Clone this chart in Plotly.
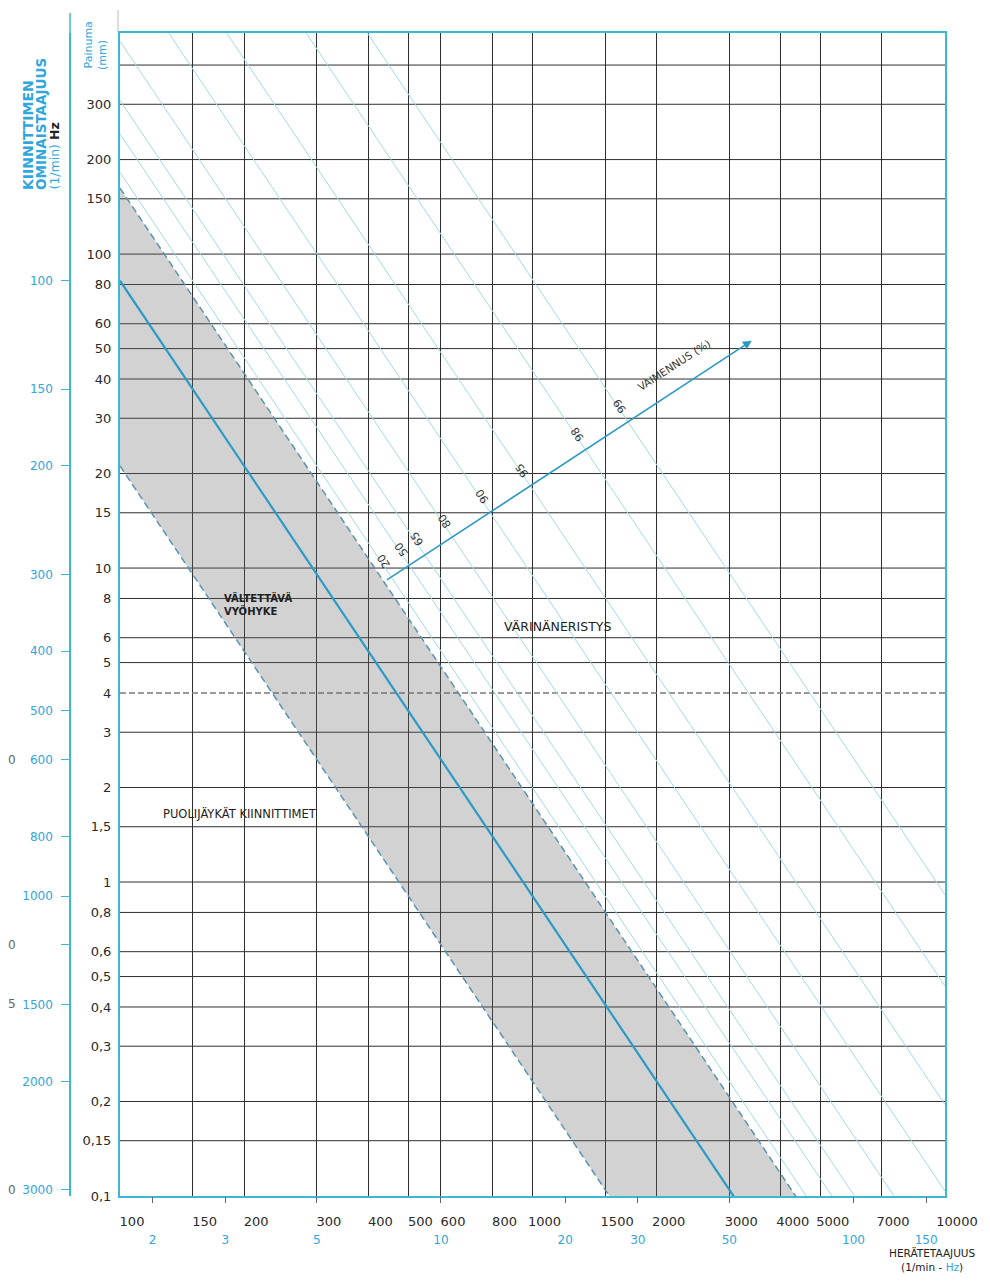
import math
import plotly.graph_objects as go

# page is 990x1282 with the default 8px body margin around the figure
PAGE_W, PAGE_H, BODY = 990, 1282, 8
W, H = PAGE_W - 2 * BODY, PAGE_H - 2 * BODY

# ---------------- data ----------------
# natural frequency of a mount [1/min] vs static deflection [mm], as drawn on the chart:
# deflection = (K / fn) ** EXP
K = 300 * math.sqrt(10)
EXP = 1.96

freq_range = [100, 10000]          # excitation frequency, 1/min
defl_range = [0.1, 506]            # deflection, mm

defl_ticks = [0.1, 0.15, 0.2, 0.3, 0.4, 0.5, 0.6, 0.8, 1, 1.5, 2, 3, 4, 5, 6, 8,
              10, 15, 20, 30, 40, 50, 60, 80, 100, 150, 200, 300, 400]
defl_labels = ["0,1", "0,15", "0,2", "0,3", "0,4", "0,5", "0,6", "0,8", "1", "1,5",
               "2", "3", "4", "5", "6", "8", "10", "15", "20", "30", "40", "50",
               "60", "80", "100", "150", "200", "300", ""]
dashed_defl = 4

freq_ticks = [100, 150, 200, 300, 400, 500, 600, 800, 1000, 1500, 2000, 3000,
              4000, 5000, 7000, 10000]
freq_labels = ["100", "150", "200", "300", "400", "500", "600", "800", "1000",
               "1500", "2000", "3000", "4000", "5000", "7000", "10000"]

hz_ticks = [2, 3, 5, 10, 20, 30, 50, 100, 150]

natfreq_ticks = [100, 150, 200, 300, 400, 500, 600, 800, 1000, 1200, 1500, 2000, 3000]
natfreq_labels = ["100", "150", "200", "300", "400", "500", "600", "800", "1000",
                  "", "1500", "2000", "3000"]
cut_hz_labels = ["0", "0", "5", "0"]      # partly cut column at the far left
cut_hz_freqs = [600, 1200, 1500, 3000]

isolation_pct = [20, 50, 65, 80, 90, 95, 98, 99]
band_ratios = [0.5, math.sqrt(2)]       # zone to avoid: f/fn from 0.5 to sqrt(2)
resonance_ratio = 1.0

arrow_start = (440, 9.1)
arrow_end = (3400, 53)

# ---------------- helpers ----------------
FRAME = "#3cb8d4"
CYAN_TXT = "#2fa6de"
GRID = "#2e2e2e"
TXT = "#2a2a2a"
TICKFONT = "DejaVu Sans"


def defl(f, r):
    return (K * r / f) ** EXP


def ratio_from_isolation(p):
    return math.sqrt(1 + 1 / (1 - p / 100.0))


def px(xp):      # page pixel -> paper x
    return (xp - BODY) / W


def py(yp):      # page pixel -> paper y
    return 1 - (yp - BODY) / H


L = math.log10
PX_L, PX_R, PX_T, PX_B = 120, 945, 33, 1196

fig = go.Figure()

# horizontal grid lines
gx, gy = [], []
for v in defl_ticks:
    if v == dashed_defl or v == defl_ticks[0]:
        continue
    gx += [freq_range[0], freq_range[1], None]
    gy += [v, v, None]
fig.add_trace(go.Scatter(x=gx, y=gy, mode="lines", line=dict(color=GRID, width=1),
                         hoverinfo="skip", showlegend=False))
fig.add_trace(go.Scatter(x=freq_range, y=[dashed_defl, dashed_defl], mode="lines",
                         line=dict(color="#7a7a7a", width=1.3, dash="6px,3px"),
                         hoverinfo="skip", showlegend=False))

# zone to avoid (shaded band)
r0, r1 = band_ratios
bx = [freq_range[0], freq_range[1], freq_range[1], freq_range[0], freq_range[0]]
by = [defl(freq_range[0], r0), defl(freq_range[1], r0),
      defl(freq_range[1], r1), defl(freq_range[0], r1), defl(freq_range[0], r0)]
fig.add_trace(go.Scatter(x=bx, y=by, mode="lines", fill="toself",
                         fillcolor="rgba(105,105,105,0.30)", line=dict(width=0),
                         hoverinfo="skip", showlegend=False))

# isolation efficiency lines
for p in isolation_pct:
    r = ratio_from_isolation(p)
    fig.add_trace(go.Scatter(x=freq_range, y=[defl(f, r) for f in freq_range],
                             mode="lines", line=dict(color="#a3d9ec", width=1),
                             hoverinfo="skip", showlegend=False))

# band edges (dashed)
for r in band_ratios:
    fig.add_trace(go.Scatter(x=freq_range, y=[defl(f, r) for f in freq_range],
                             mode="lines", line=dict(color="#5a93b3", width=1.5, dash="7px,4px"),
                             hoverinfo="skip", showlegend=False))

# resonance line
fig.add_trace(go.Scatter(x=freq_range, y=[defl(f, resonance_ratio) for f in freq_range],
                         mode="lines", line=dict(color="#2b9ac6", width=2.2),
                         hoverinfo="skip", showlegend=False))

# dummy traces for the secondary axes
fig.add_trace(go.Scatter(x=[1000], y=[1], xaxis="x2", yaxis="y", mode="markers",
                         marker=dict(opacity=0), hoverinfo="skip", showlegend=False))
fig.add_trace(go.Scatter(x=[1000], y=[1], xaxis="x", yaxis="y2", mode="markers",
                         marker=dict(opacity=0), hoverinfo="skip", showlegend=False))

xdom = [px(PX_L), px(PX_R)]
ydom = [py(PX_B), py(PX_T)]
xr = [L(freq_range[0]), L(freq_range[1])]
yr = [L(defl_range[0]), L(defl_range[1])]

fig.update_layout(
    width=W, height=H,
    margin=dict(l=0, r=0, t=0, b=0, autoexpand=False),
    paper_bgcolor="white", plot_bgcolor="white",
    showlegend=False,
    xaxis=dict(type="log", range=xr, domain=xdom, anchor="y",
               tickmode="array", tickvals=freq_ticks, ticktext=freq_labels,
               ticks="", showgrid=True, gridcolor=GRID, gridwidth=1,
               showline=True, mirror=True, linecolor=FRAME, linewidth=2,
               zeroline=False, ticklabelshift=12, ticklabelstandoff=12,
               tickfont=dict(family=TICKFONT, size=13, color=TXT)),
    xaxis2=dict(type="log", range=xr, overlaying="x", anchor="y", side="bottom",
                tickmode="array", tickvals=[h * 60 for h in hz_ticks],
                ticktext=[str(h) for h in hz_ticks],
                ticks="outside", ticklen=6, tickwidth=1, tickcolor="#666",
                showgrid=False, showline=False, zeroline=False,
                ticklabelstandoff=27,
                tickfont=dict(family=TICKFONT, size=12, color=CYAN_TXT)),
    yaxis=dict(type="log", range=yr, domain=ydom, anchor="x",
               tickmode="array", tickvals=defl_ticks, ticktext=defl_labels,
               ticks="", showgrid=False, showline=True, mirror=True,
               linecolor=FRAME, linewidth=2, zeroline=False, ticklabelstandoff=4,
               tickfont=dict(family=TICKFONT, size=13, color=TXT)),
    yaxis2=dict(type="log", range=yr, overlaying="y", anchor="free", position=px(70),
                side="left", tickmode="array",
                tickvals=[defl(f, 1) for f in natfreq_ticks], ticktext=natfreq_labels,
                ticks="outside", ticklen=8, tickwidth=1, tickcolor=FRAME,
                showline=True, linecolor=FRAME, linewidth=1.5, showgrid=False,
                zeroline=False, ticklabelstandoff=6,
                tickfont=dict(family=TICKFONT, size=12, color=CYAN_TXT)),
)

ann = []
# arrow for damping / isolation
ann.append(dict(x=L(arrow_end[0]), y=L(arrow_end[1]), ax=L(arrow_start[0]), ay=L(arrow_start[1]),
                xref="x", yref="y", axref="x", ayref="y", text="", showarrow=True,
                arrowhead=2, arrowsize=1.1, arrowwidth=1.6, arrowcolor="#2b9ac6", standoff=0))

X0, Y0 = L(arrow_start[0]), L(arrow_start[1])
X1, Y1 = L(arrow_end[0]), L(arrow_end[1])
for p in isolation_pct:
    r = ratio_from_isolation(p)
    t = (EXP * L(K * r) - Y0 - EXP * X0) / ((Y1 - Y0) + EXP * (X1 - X0))
    ann.append(dict(x=X0 + t * (X1 - X0), y=Y0 + t * (Y1 - Y0), xref="x", yref="y",
                    text=str(p), showarrow=False, textangle=-123, xshift=-8, yshift=16,
                    xanchor="center", yanchor="middle",
                    font=dict(family=TICKFONT, size=11, color="#333")))
tv = 0.815
ann.append(dict(x=X0 + tv * (X1 - X0), y=Y0 + tv * (Y1 - Y0), xref="x", yref="y",
                text="VAIMENNUS (%)", showarrow=False, textangle=-33, xshift=-10, yshift=20,
                xanchor="center", yanchor="middle",
                font=dict(family=TICKFONT, size=10.5, color="#333")))

# cut-off labels far left
for txt, f in zip(cut_hz_labels, cut_hz_freqs):
    ann.append(dict(x=px(12), y=L(defl(f, 1)), xref="paper", yref="y", text=txt,
                    showarrow=False, xanchor="center", yanchor="middle",
                    font=dict(family=TICKFONT, size=12, color="#666")))

# axis titles (rotated)
ann.append(dict(x=px(88), y=py(71), xref="paper", yref="paper", text="Painuma",
                textangle=-90, showarrow=False, xanchor="center", yanchor="bottom",
                font=dict(family=TICKFONT, size=11, color=CYAN_TXT)))
ann.append(dict(x=px(102), y=py(72), xref="paper", yref="paper", text="(mm)",
                textangle=-90, showarrow=False, xanchor="center", yanchor="bottom",
                font=dict(family=TICKFONT, size=11, color=CYAN_TXT)))
for txt, xp, sz in [("<b>KIINNITTIMEN</b>", 28, 14), ("<b>OMINAISTAAJUUS</b>", 41, 13.5),
                    ("(1/min) <span style='color:#222'><b>Hz</b></span>", 54, 12.5)]:
    ann.append(dict(x=px(xp), y=py(192), xref="paper", yref="paper", text=txt,
                    textangle=-90, showarrow=False, xanchor="center", yanchor="bottom",
                    font=dict(family=TICKFONT, size=sz, color=CYAN_TXT)))

# zone labels
ann.append(dict(x=px(222), y=py(604), xref="paper", yref="paper",
                text="<b>VÄLTETTÄVÄ<br>VYÖHYKE</b>", align="left", xanchor="left",
                yanchor="middle", showarrow=False,
                font=dict(family=TICKFONT, size=10, color="#222")))
ann.append(dict(x=px(557), y=py(626), xref="paper", yref="paper",
                text="VÄRINÄNERISTYS", showarrow=False, xanchor="center", yanchor="middle",
                font=dict(family=TICKFONT, size=12.5, color="#222")))
ann.append(dict(x=px(240), y=py(813), xref="paper", yref="paper",
                text="PUOLIJÄYKÄT KIINNITTIMET", showarrow=False,
                xanchor="center", yanchor="middle",
                font=dict(family=TICKFONT, size=11.5, color="#222")))
ann.append(dict(x=px(932), y=py(1260), xref="paper", yref="paper",
                text="HERÄTETAAJUUS<br>(1/min - <span style='color:%s'>Hz</span>)" % CYAN_TXT,
                showarrow=False, align="center", xanchor="center", yanchor="middle",
                font=dict(family=TICKFONT, size=10.5, color="#222")))
fig.update_layout(annotations=ann)

# small axis extensions above the frame
fig.add_shape(type="line", xref="paper", yref="paper", x0=px(70), x1=px(70),
              y0=py(PX_T), y1=py(13), line=dict(color=FRAME, width=1.5))
fig.add_shape(type="line", xref="paper", yref="paper", x0=px(118), x1=px(118),
              y0=py(PX_T), y1=py(10), line=dict(color="#bbbbbb", width=1))

fig.write_html("out.html")
